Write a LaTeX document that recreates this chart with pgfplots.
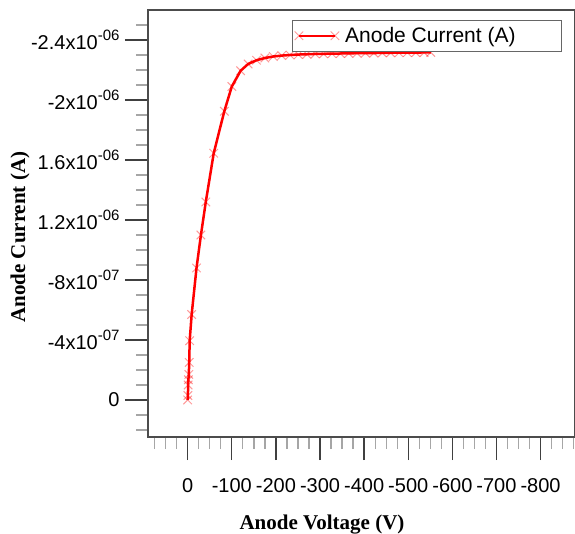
\documentclass[border=0pt]{standalone}
\usepackage{pgfplots}
\pgfplotsset{compat=1.18}
\usepackage{fontspec}
\setmainfont{Liberation Sans}
\newfontfamily\serifbf{Liberation Serif}
\newcommand\sx[1]{\raisebox{0.42em}{\fontsize{15}{15}\selectfont #1}}
\begin{document}
\begin{tikzpicture}
\useasboundingbox (-148pt,-96pt) rectangle (427pt,437pt);
\begin{axis}[
  at={(0pt,0pt)}, anchor=south west,
  scale only axis, width=427pt, height=427pt,
  x dir=reverse, y dir=reverse,
  xmin=-878, xmax=90,
  ymin=-2.6e-6, ymax=2.47e-7,
  scaled y ticks=false, scaled x ticks=false,
  axis line style={draw=black!70, line width=1.1pt},
  tick align=outside, xtick pos=lower, ytick pos=left,
  major tick length=23pt, minor tick length=12pt,
  major tick style={line width=1.3pt, black!75},
  minor tick style={line width=1.3pt, black!35},
  xtick={0,-100,-200,-300,-400,-500,-600,-700,-800},
  xticklabels={0,-100,-200,-300,-400,-500,-600,-700,-800},
  minor xtick={75,50,25,-25,-50,-75,-125,-150,-175,-225,-250,-275,-325,-350,-375,-425,-450,-475,-525,-550,-575,-625,-650,-675,-725,-750,-775,-825,-850,-875},
  ytick={-2.4e-6,-2e-6,-1.6e-6,-1.2e-6,-8e-7,-4e-7,0},
  yticklabels={{-2.4x10\sx{-06}},{-2x10\sx{-06}},{1.6x10\sx{-06}},{1.2x10\sx{-06}},{-8x10\sx{-07}},{-4x10\sx{-07}},0},
  minor ytick={-2.5e-6,-2.3e-6,-2.2e-6,-2.1e-6,-1.9e-6,-1.8e-6,-1.7e-6,-1.5e-6,-1.4e-6,-1.3e-6,-1.1e-6,-1.0e-6,-9e-7,-7e-7,-6e-7,-5e-7,-3e-7,-2e-7,-1e-7,1e-7,2e-7},
  ticklabel style={font=\fontsize{20}{23}\selectfont},
  xticklabel style={yshift=-15pt},
  yticklabel style={xshift=-2pt},
  xlabel={Anode Voltage (V)},
  ylabel={Anode Current (A)},
  label style={font=\serifbf\bfseries\fontsize{21}{24}\selectfont},
  xlabel style={at={(axis description cs:0.4075,-0.205)}, anchor=center},
  ylabel style={at={(axis description cs:-0.2998,0.468)}, anchor=center, rotate=0},
  legend style={at={(axis description cs:0.9696,0.9766)}, anchor=north east,
    draw=black!60, line width=0.8pt, font=\fontsize{21}{24}\selectfont,
    inner xsep=2pt, inner ysep=5pt},
  legend image code/.code={
    \draw[#1, mark=none] (0pt,0pt) -- (36pt,0pt);
    \draw[#1] plot[only marks] coordinates {(0pt,0pt) (36pt,0pt)};
  },
]
\addplot[red, line width=2.5pt, mark=x, mark size=6pt,
  mark options={red, opacity=0.4, line width=1pt}] coordinates {
(0,0) (-0.5,-3e-8) (-1,-1e-7) (-1.5,-1.35e-7) (-2.5,-1.7e-7) (-3.5,-2.5e-7)
(-4.5,-3.95e-7) (-9,-5.7e-7) (-20,-8.8e-7) (-30,-1.1e-6) (-41,-1.32e-6)
(-59,-1.645e-6) (-83,-1.925e-6) (-100,-2.09e-6) (-120,-2.195e-6)
(-137,-2.24e-6) (-156,-2.265e-6) (-175,-2.28e-6) (-194,-2.29e-6)
(-213,-2.296e-6) (-232,-2.300e-6) (-251,-2.303e-6) (-270,-2.305e-6)
(-289,-2.307e-6) (-308,-2.308e-6) (-327,-2.309e-6) (-346,-2.310e-6)
(-365,-2.311e-6) (-384,-2.312e-6) (-403,-2.313e-6) (-422,-2.313e-6)
(-441,-2.314e-6) (-460,-2.315e-6) (-479,-2.315e-6) (-498,-2.316e-6)
(-517,-2.316e-6) (-536,-2.317e-6) (-551,-2.317e-6)
};
\addlegendentry{\hspace*{4pt}Anode Current (A)\hspace*{42pt}\mbox{}}
\end{axis}
\end{tikzpicture}
\end{document}
